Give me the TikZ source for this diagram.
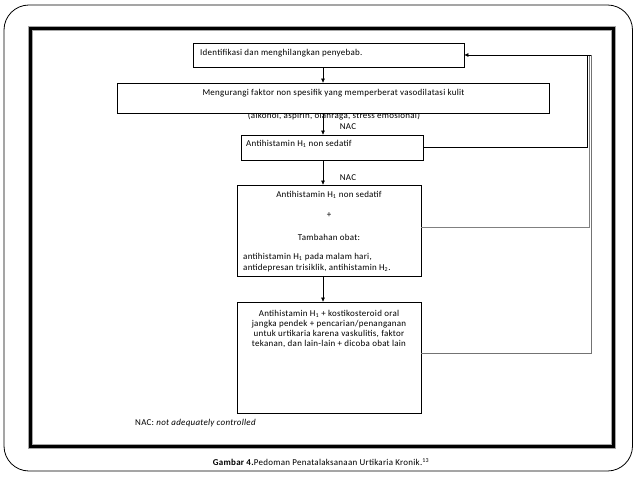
\documentclass[tikz,border=0pt]{standalone}
\usepackage{fontspec}
\setmainfont{Carlito}[LetterSpace=3]
\usetikzlibrary{arrows.meta}
\begin{document}
\begin{tikzpicture}[x=1bp,y=-1bp,
  box/.style={draw=black, line width=0.8bp, fill=white, inner sep=0pt},
  txt/.style={font=\fontsize{9}{10}\selectfont, inner sep=0pt},
  arr/.style={-{Triangle[length=4bp,width=3.6bp]}, line width=0.7bp},
  fbline/.style={line width=0.7bp}]
\useasboundingbox (0,0) rectangle (638,479);
% frames
\draw[line width=0.8bp, rounded corners=25bp] (4,5) rectangle (632.5,471);
\draw[line width=5bp, gray!70] (30.7,28.3) rectangle (613,446);
\draw[line width=3bp, black] (30.7,28.3) rectangle (613,446);
% coordinates
\coordinate (ax) at (323,0);
\coordinate (r1) at (587,0);
\coordinate (r2) at (589,0);
\coordinate (r3) at (591,0);
% boxes
\node[box, minimum width=271bp, minimum height=24bp] (b1) at (328.5,55) {};
\node[txt, anchor=west] (t1) at (200,53) {Identifikasi dan menghilangkan penyebab.};
\node[txt] (t2b) at (334,116) {(alkohol, aspirin, olahraga, stress emosional)};
\node[box, minimum width=432bp, minimum height=30bp] (b2) at (333,98) {};
\node[txt] (t2a) at (333.5,93) {Mengurangi faktor non spesifik yang memperberat vasodilatasi kulit};
\node[box, minimum width=182bp, minimum height=25bp] (b3) at (332,147.5) {};
\node[txt, anchor=west] (t3) at (246,144) {Antihistamin H\textsubscript{1} non sedatif};
\node[box, minimum width=184bp, minimum height=91bp] (b4) at (329,230.5) {};
\node[txt] (t4a) at (329,195) {Antihistamin H\textsubscript{1} non sedatif};
\node[txt] (t4b) at (329,215) {+};
\node[txt] (t4c) at (329,237) {Tambahan obat:};
\node[txt, anchor=west, align=left, font=\fontsize{9}{11}\selectfont] (t4d) at (243,262.5)
  {antihistamin H\textsubscript{1} pada malam hari,\\antidepresan trisiklik, antihistamin H\textsubscript{2}.};
\node[box, minimum width=184bp, minimum height=111bp] (b5) at (329,357.5) {};
\node[txt, align=center] (t5) at (329,329)
  {Antihistamin H\textsubscript{1} + kostikosteroid oral\\jangka pendek + pencarian/penanganan\\untuk urtikaria karena vaskulitis, faktor\\tekanan, dan lain-lain + dicoba obat lain};
% NAC labels
\node[txt] (n1) at (348,127) {NAC};
\node[txt] (n2) at (348,178) {NAC};
% down arrows
\draw[arr] (b1.south -| ax) -- (b2.north -| ax);
\draw[arr] (b2.south -| ax) -- (b3.north -| ax);
\draw[arr] (b3.south -| ax) -- (b4.north -| ax);
\draw[arr] (b4.south -| ax) -- (b5.north -| ax);
% feedback
\draw[fbline, black!55] ([yshift=4.5bp]b5.east) -- ([yshift=4.5bp]b5.east -| r3) -- (b1.east -| r3);
\draw[fbline, black!50] ([yshift=3.5bp]b4.east) -- ([yshift=3.5bp]b4.east -| r2) -- (b1.east -| r2);
\draw[fbline] (b3.east) -- (b3.east -| r1) -- (b1.east -| r1);
\draw[arr] (b1.east -| r3) -- (b1.east);
% footnote and caption
\node[txt, anchor=west] (fn) at (135,423) {NAC: \textit{not adequately controlled}};
\node[txt] (cap) at (321,462) {\textbf{Gambar 4.}Pedoman Penatalaksanaan Urtikaria Kronik.\textsuperscript{13}};
\end{tikzpicture}
\end{document}
